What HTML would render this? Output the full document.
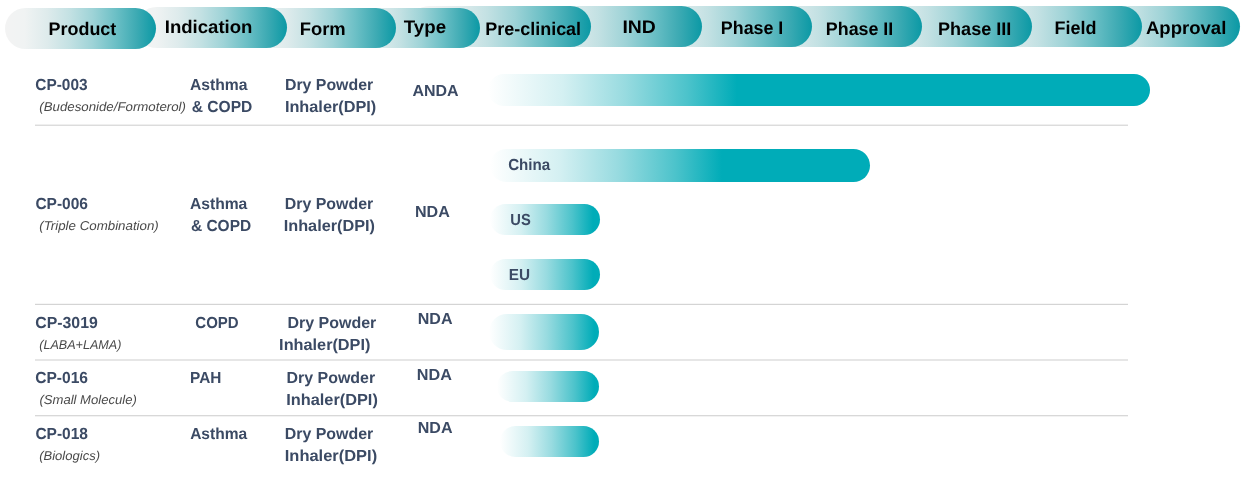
<!DOCTYPE html>
<html><head><meta charset="utf-8"><title>Pipeline</title>
<style>
html,body{margin:0;padding:0;background:#fff;}
body{width:1245px;height:480px;position:relative;overflow:hidden;font-family:"Liberation Sans",sans-serif;}
.pill{position:absolute;border-radius:21px;background:linear-gradient(90deg,#f3f3f3 0%,#f0f3f3 13%,#deebec 28%,#c3e1e3 43%,#9ed3d7 58%,#6dc0c6 73%,#3caab3 87.4%,#0b99a5 100%);}
.ht,.t,.i{position:absolute;left:0;top:0;white-space:nowrap;line-height:1;text-rendering:geometricPrecision;transform-origin:0 0;}
#tx{position:absolute;left:0;top:0;width:1245px;height:480px;will-change:transform;z-index:50;}
.ht{font-weight:bold;color:#000;z-index:40;font-size:18.2px;}
.t{font-weight:bold;color:#3b4a64;z-index:5;font-size:16.0px;}
.i{font-style:italic;color:#4a4a4a;z-index:5;font-size:12.8px;}
.hr{position:absolute;left:34.7px;width:1093.6px;height:2px;}
.bar{position:absolute;border-radius:18px;}

</style></head><body>

<div class="pill" style="left:5px;top:8.0px;width:151.2px;height:40.9px;z-index:20"></div>
<div class="pill" style="left:136px;top:7.0px;width:150.9px;height:40.8px;z-index:19"></div>
<div class="pill" style="left:245px;top:8.0px;width:151.0px;height:39.8px;z-index:18"></div>
<div class="pill" style="left:340px;top:8.0px;width:139.9px;height:39.8px;z-index:17"></div>
<div class="pill" style="left:409px;top:5.8px;width:181.9px;height:40.85px;z-index:16"></div>
<div class="pill" style="left:520px;top:5.8px;width:181.9px;height:40.85px;z-index:15"></div>
<div class="pill" style="left:630px;top:5.8px;width:182.0px;height:40.85px;z-index:14"></div>
<div class="pill" style="left:740px;top:5.8px;width:181.9px;height:40.85px;z-index:13"></div>
<div class="pill" style="left:850px;top:5.8px;width:182.0px;height:40.85px;z-index:12"></div>
<div class="pill" style="left:960px;top:5.8px;width:181.9px;height:40.85px;z-index:11"></div>
<div class="pill" style="left:1058px;top:5.8px;width:182.0px;height:40.85px;z-index:10"></div>
<div id="tx">
<div class="ht" style="transform:translate(48.51px,20.49px) scaleX(0.9865)">Product</div>
<div class="ht" style="transform:translate(164.77px,18.49px) scaleX(1.0211)">Indication</div>
<div class="ht" style="transform:translate(299.65px,20.49px) scaleX(1.0121)">Form</div>
<div class="ht" style="transform:translate(403.82px,17.89px) scaleX(1.0272)">Type</div>
<div class="ht" style="transform:translate(485.28px,20.39px) scaleX(0.9872)">Pre-clinical</div>
<div class="ht" style="transform:translate(622.38px,18.19px) scaleX(1.0671)">IND</div>
<div class="ht" style="transform:translate(720.86px,19.39px) scaleX(0.9808)">Phase I</div>
<div class="ht" style="transform:translate(825.87px,20.39px) scaleX(0.9804)">Phase II</div>
<div class="ht" style="transform:translate(938.02px,20.39px) scaleX(0.9929)">Phase III</div>
<div class="ht" style="transform:translate(1054.51px,18.59px) scaleX(0.9881)">Field</div>
<div class="ht" style="transform:translate(1145.91px,19.29px) scaleX(1.0196)">Approval</div>
<div class="t" style="transform:translate(35.28px,78.46px) scaleX(0.9631)">CP-003</div>
<div class="i" style="transform:translate(39.24px,101.16px) scaleX(1.0364)">(Budesonide/Formoterol)</div>
<div class="t" style="transform:translate(190.00px,78.46px) scaleX(0.9803)">Asthma</div>
<div class="t" style="transform:translate(191.79px,100.46px) scaleX(0.9728)">&amp; COPD</div>
<div class="t" style="transform:translate(284.93px,78.46px) scaleX(0.9926)">Dry Powder</div>
<div class="t" style="transform:translate(284.88px,100.16px) scaleX(1.0179)">Inhaler(DPI)</div>
<div class="t" style="transform:translate(412.45px,84.36px) scaleX(0.9984)">ANDA</div>
<div class="t" style="transform:translate(35.41px,197.46px) scaleX(0.9687)">CP-006</div>
<div class="i" style="transform:translate(39.25px,219.96px) scaleX(1.0398)">(Triple Combination)</div>
<div class="t" style="transform:translate(189.93px,197.46px) scaleX(0.9776)">Asthma</div>
<div class="t" style="transform:translate(190.97px,219.46px) scaleX(0.9667)">&amp; COPD</div>
<div class="t" style="transform:translate(284.71px,197.46px) scaleX(0.9956)">Dry Powder</div>
<div class="t" style="transform:translate(283.70px,219.06px) scaleX(1.0164)">Inhaler(DPI)</div>
<div class="t" style="transform:translate(415.00px,205.36px) scaleX(1.0048)">NDA</div>
<div class="t" style="transform:translate(35.32px,316.36px) scaleX(0.9883)">CP-3019</div>
<div class="i" style="transform:translate(39.22px,339.16px) scaleX(0.9834)">(LABA+LAMA)</div>
<div class="t" style="transform:translate(195.34px,315.56px) scaleX(0.9378)">COPD</div>
<div class="t" style="transform:translate(287.45px,315.56px) scaleX(0.9997)">Dry Powder</div>
<div class="t" style="transform:translate(279.12px,337.56px) scaleX(1.0167)">Inhaler(DPI)</div>
<div class="t" style="transform:translate(417.73px,312.46px) scaleX(1.0025)">NDA</div>
<div class="t" style="transform:translate(35.21px,371.46px) scaleX(0.9724)">CP-016</div>
<div class="i" style="transform:translate(39.43px,393.96px) scaleX(1.0216)">(Small Molecule)</div>
<div class="t" style="transform:translate(190.11px,371.46px) scaleX(0.9603)">PAH</div>
<div class="t" style="transform:translate(286.47px,371.46px) scaleX(0.9974)">Dry Powder</div>
<div class="t" style="transform:translate(286.20px,393.06px) scaleX(1.0207)">Inhaler(DPI)</div>
<div class="t" style="transform:translate(416.87px,368.36px) scaleX(1.0105)">NDA</div>
<div class="t" style="transform:translate(35.38px,427.46px) scaleX(0.9689)">CP-018</div>
<div class="i" style="transform:translate(39.20px,449.96px) scaleX(1.0181)">(Biologics)</div>
<div class="t" style="transform:translate(190.15px,427.46px) scaleX(0.9710)">Asthma</div>
<div class="t" style="transform:translate(284.74px,427.46px) scaleX(0.9957)">Dry Powder</div>
<div class="t" style="transform:translate(284.76px,449.06px) scaleX(1.0286)">Inhaler(DPI)</div>
<div class="t" style="transform:translate(417.73px,421.36px) scaleX(1.0025)">NDA</div>
<div class="t" style="transform:translate(508.15px,158.36px) scaleX(0.9449)">China</div>
<div class="t" style="transform:translate(510.27px,213.36px) scaleX(0.9198)">US</div>
<div class="t" style="transform:translate(508.82px,268.36px) scaleX(0.9560)">EU</div>
</div>
<div class="hr" style="top:124px;background:linear-gradient(180deg,#efefef 0,#efefef 50%,#dcdcdc 50%,#dcdcdc 100%)"></div>
<div class="hr" style="top:303px;background:linear-gradient(180deg,#f6f6f6 0,#f6f6f6 50%,#d4d4d4 50%,#d4d4d4 100%)"></div>
<div class="hr" style="top:359px;background:linear-gradient(180deg,#e6e6e6 0,#e6e6e6 50%,#e6e6e6 50%,#e6e6e6 100%)"></div>
<div class="hr" style="top:415px;background:linear-gradient(180deg,#d8d8d8 0,#d8d8d8 50%,#f2f2f2 50%,#f2f2f2 100%)"></div>
<div class="bar" style="left:488px;top:74.2px;width:661.7px;height:31.4px;background:linear-gradient(90deg,#ffffff 0%,#d4f0f2 11.3%,#98dbe0 20.7%,#4cc3cb 30.1%,#00acb8 37.6%,#00acb8 100%)"></div>
<div class="bar" style="left:490px;top:148.9px;width:380.3px;height:32.8px;background:linear-gradient(90deg,#ffffff 0%,#d4f0f2 18.3%,#98dbe0 33.6%,#4cc3cb 48.8%,#00acb8 61.0%,#00acb8 100%)"></div>
<div class="bar" style="left:490px;top:203.5px;width:110.0px;height:31.0px;background:linear-gradient(90deg,#ffffff 0%,#d4f0f2 28.1%,#98dbe0 51.5%,#4cc3cb 74.9%,#00acb8 93.6%,#00acb8 100%)"></div>
<div class="bar" style="left:490px;top:259px;width:110.0px;height:31.0px;background:linear-gradient(90deg,#ffffff 0%,#d4f0f2 28.1%,#98dbe0 51.5%,#4cc3cb 74.9%,#00acb8 93.6%,#00acb8 100%)"></div>
<div class="bar" style="left:489.4px;top:313.9px;width:109.4px;height:35.7px;background:linear-gradient(90deg,#ffffff 0%,#d4f0f2 28.7%,#98dbe0 52.6%,#4cc3cb 76.5%,#00acb8 95.6%,#00acb8 100%)"></div>
<div class="bar" style="left:496.6px;top:371.1px;width:102.2px;height:31.0px;background:linear-gradient(90deg,#ffffff 0%,#d4f0f2 28.6%,#98dbe0 52.4%,#4cc3cb 76.2%,#00acb8 95.3%,#00acb8 100%)"></div>
<div class="bar" style="left:500.3px;top:425.8px;width:98.5px;height:31.4px;background:linear-gradient(90deg,#ffffff 0%,#d4f0f2 28.5%,#98dbe0 52.3%,#4cc3cb 76.1%,#00acb8 95.1%,#00acb8 100%)"></div>
</body></html>
